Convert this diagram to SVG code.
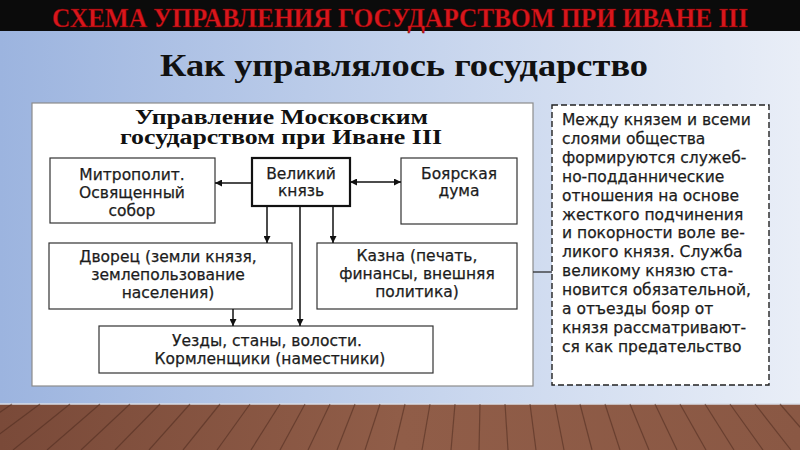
<svg xmlns="http://www.w3.org/2000/svg" width="800" height="450" viewBox="0 0 800 450">
<defs>
  <linearGradient id="bg" x1="0" y1="0" x2="1" y2="0">
    <stop offset="0" stop-color="#9cb4df"/>
    <stop offset="0.5" stop-color="#c3d2ec"/>
    <stop offset="1" stop-color="#e9eef7"/>
  </linearGradient>
  <linearGradient id="floor" x1="0" y1="0" x2="1" y2="0">
    <stop offset="0" stop-color="#7a4a39"/>
    <stop offset="0.5" stop-color="#905d48"/>
    <stop offset="1" stop-color="#8a5844"/>
  </linearGradient>
  <marker id="ah" viewBox="0 0 10 10" refX="10" refY="5" markerWidth="9" markerHeight="7" markerUnits="userSpaceOnUse" orient="auto-start-reverse">
    <path d="M0,0 L10,5 L0,10 z" fill="#111"/>
  </marker>
  <style>
    .box{fill:#fff;stroke:#333;stroke-width:1.2}
    .t{font-family:"DejaVu Sans","Noto Sans",sans-serif;font-size:15.5px;fill:#1c1c1c;stroke:#1c1c1c;stroke-width:0.25;text-anchor:middle}
    .rt{font-family:"DejaVu Sans","Noto Sans",sans-serif;font-size:15.5px;fill:#1c1c1c;stroke:#1c1c1c;stroke-width:0.25}
    .hd{font-family:"Liberation Serif","Times New Roman",serif;font-weight:bold;fill:#111}
    .ttl{font-family:"Liberation Serif","Times New Roman",serif;font-weight:bold;fill:#d8161c;stroke:#6a0000;stroke-width:0.4}
    .ln{stroke:#111;stroke-width:1.5;fill:none}
    .pl{stroke:#4e2b1f;stroke-width:1.2;opacity:0.55}
  </style>
</defs>

<!-- background -->
<rect x="0" y="0" width="800" height="450" fill="url(#bg)"/>
<rect x="0" y="0" width="800" height="31" fill="#0b0b0b"/>
<text x="52" y="27" class="ttl" font-size="27" textLength="696" lengthAdjust="spacingAndGlyphs">СХЕМА УПРАВЛЕНИЯ ГОСУДАРСТВОМ ПРИ ИВАНЕ III</text>

<!-- floor -->
<g id="floor-planks">
  <rect x="0" y="404" width="800" height="46" fill="url(#floor)"/>
  <line x1="0" y1="404" x2="800" y2="404" stroke="#d9dde6" stroke-width="1.5"/>
  <line class="pl" x1="-20" y1="404" x2="-90" y2="450"/>
  <line class="pl" x1="12" y1="404" x2="-55" y2="450"/>
  <line class="pl" x1="40" y1="404" x2="-22" y2="450"/>
  <line class="pl" x1="70" y1="404" x2="13" y2="450"/>
  <line class="pl" x1="100" y1="404" x2="47" y2="450"/>
  <line class="pl" x1="130" y1="404" x2="81" y2="450"/>
  <line class="pl" x1="160" y1="404" x2="115" y2="450"/>
  <line class="pl" x1="190" y1="404" x2="149" y2="450"/>
  <line class="pl" x1="220" y1="404" x2="183" y2="450"/>
  <line class="pl" x1="250" y1="404" x2="217" y2="450"/>
  <line class="pl" x1="280" y1="404" x2="251" y2="450"/>
  <line class="pl" x1="305" y1="404" x2="280" y2="450"/>
  <line class="pl" x1="330" y1="404" x2="308" y2="450"/>
  <line class="pl" x1="355" y1="404" x2="337" y2="450"/>
  <line class="pl" x1="380" y1="404" x2="365" y2="450"/>
  <line class="pl" x1="405" y1="404" x2="394" y2="450"/>
  <line class="pl" x1="430" y1="404" x2="422" y2="450"/>
  <line class="pl" x1="455" y1="404" x2="451" y2="450"/>
  <line class="pl" x1="480" y1="404" x2="479" y2="450"/>
  <line class="pl" x1="505" y1="404" x2="508" y2="450"/>
  <line class="pl" x1="530" y1="404" x2="536" y2="450"/>
  <line class="pl" x1="555" y1="404" x2="564" y2="450"/>
  <line class="pl" x1="580" y1="404" x2="592" y2="450"/>
  <line class="pl" x1="605" y1="404" x2="620" y2="450"/>
  <line class="pl" x1="630" y1="404" x2="649" y2="450"/>
  <line class="pl" x1="655" y1="404" x2="677" y2="450"/>
  <line class="pl" x1="680" y1="404" x2="706" y2="450"/>
  <line class="pl" x1="705" y1="404" x2="734" y2="450"/>
  <line class="pl" x1="730" y1="404" x2="763" y2="450"/>
  <line class="pl" x1="755" y1="404" x2="791" y2="450"/>
  <line class="pl" x1="780" y1="404" x2="820" y2="450"/>
</g>

<!-- heading -->
<text x="160" y="76" class="hd" font-size="31" textLength="488" lengthAdjust="spacingAndGlyphs">Как управлялось государство</text>

<!-- main panel -->
<g id="panel">
  <rect x="32" y="103" width="501" height="283" fill="#fff" stroke="#8c8c8c" stroke-width="1.2"/>
  <text x="135" y="124" class="hd" font-size="20" textLength="293" lengthAdjust="spacingAndGlyphs">Управление Московским</text>
  <text x="120" y="144" class="hd" font-size="20" textLength="322" lengthAdjust="spacingAndGlyphs">государством при Иване III</text>
</g>

<g id="mitropolit">
  <rect class="box" x="50" y="158" width="165" height="65"/>
  <text class="t" x="132" y="180">Митрополит.</text>
  <text class="t" x="132" y="198">Освященный</text>
  <text class="t" x="132" y="216">собор</text>
</g>

<g id="velikiy-knyaz">
  <rect x="252" y="158" width="98" height="48" fill="#fff" stroke="#111" stroke-width="2.2"/>
  <text class="t" x="301" y="179">Великий</text>
  <text class="t" x="301" y="196">князь</text>
</g>

<g id="boyarskaya-duma">
  <rect class="box" x="401" y="158" width="116" height="66"/>
  <text class="t" x="459" y="179">Боярская</text>
  <text class="t" x="459" y="196">дума</text>
</g>

<g id="dvorets">
  <rect class="box" x="49" y="243" width="243" height="66"/>
  <text class="t" x="168" y="262">Дворец (земли князя,</text>
  <text class="t" x="168" y="280">землепользование</text>
  <text class="t" x="168" y="298">населения)</text>
</g>

<g id="kazna">
  <rect class="box" x="317" y="243" width="200" height="66"/>
  <text class="t" x="417" y="261">Казна (печать,</text>
  <text class="t" x="417" y="279">финансы, внешняя</text>
  <text class="t" x="417" y="297">политика)</text>
</g>

<g id="uezdy">
  <rect class="box" x="99" y="326" width="334" height="47"/>
  <text class="t" x="267" y="346">Уезды, станы, волости.</text>
  <text class="t" x="270" y="364">Кормленщики (наместники)</text>
</g>

<g id="note">
  <rect x="552" y="105" width="217" height="280" fill="#fff" stroke="#222" stroke-width="1.4" stroke-dasharray="6 3"/>
  <text class="rt" x="562" y="125">Между князем и всеми</text>
  <text class="rt" x="562" y="144">слоями общества</text>
  <text class="rt" x="562" y="163">формируются служеб-</text>
  <text class="rt" x="562" y="182">но-подданнические</text>
  <text class="rt" x="562" y="201">отношения на основе</text>
  <text class="rt" x="562" y="220">жесткого подчинения</text>
  <text class="rt" x="562" y="238">и покорности воле ве-</text>
  <text class="rt" x="562" y="257">ликого князя. Служба</text>
  <text class="rt" x="562" y="276">великому князю ста-</text>
  <text class="rt" x="562" y="295">новится обязательной,</text>
  <text class="rt" x="562" y="314">а отъезды бояр от</text>
  <text class="rt" x="562" y="333">князя рассматривают-</text>
  <text class="rt" x="562" y="352">ся как предательство</text>
</g>

<g id="connectors">
  <line class="ln" x1="252" y1="183" x2="215" y2="183" marker-end="url(#ah)"/>
  <line class="ln" x1="350" y1="182" x2="401" y2="182" marker-start="url(#ah)" marker-end="url(#ah)"/>
  <line class="ln" x1="267" y1="206" x2="267" y2="243" marker-end="url(#ah)"/>
  <line class="ln" x1="300" y1="206" x2="300" y2="326" marker-end="url(#ah)"/>
  <line class="ln" x1="333" y1="206" x2="333" y2="243" marker-end="url(#ah)"/>
  <line class="ln" x1="233" y1="309" x2="233" y2="326" marker-end="url(#ah)"/>
  <line x1="533" y1="272" x2="552" y2="272" stroke="#222" stroke-width="1.2"/>
</g>
</svg>
